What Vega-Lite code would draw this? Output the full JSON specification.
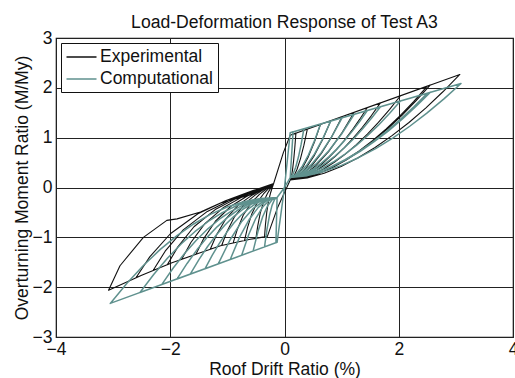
{
  "$schema": "https://vega.github.io/schema/vega-lite/v6.json",
  "width": 457,
  "height": 299,
  "autosize": {"type": "none"},
  "padding": {"left": 56, "top": 38, "right": 2, "bottom": 41},
  "background": "white",
  "title": {
    "text": "Load-Deformation Response of Test A3",
    "font": "Liberation Sans",
    "fontSize": 17.6,
    "fontWeight": "normal",
    "color": "#111111",
    "anchor": "middle",
    "offset": -3
  },
  "datasets": {
    "experimental": [
      {"x": -0.19, "y": 0.08}, {"x": -0.02, "y": 0.7}, {"x": 0.1, "y": 1.05}, {"x": 0.2, "y": 1.091}, {"x": 0.18, "y": 0.794}, {"x": 0.16, "y": 0.545}, {"x": 0.14, "y": 0.349}, {"x": 0.12, "y": 0.211}, {"x": 0.1, "y": 0.15}, {"x": -0.12, "y": -0.4}, {"x": -0.3, "y": -0.98}, {"x": -0.35, "y": -0.99}, {"x": -0.334, "y": -0.752}, {"x": -0.31, "y": -0.49}, {"x": -0.278, "y": -0.263}, {"x": -0.246, "y": -0.116}, {"x": -0.214, "y": 0.0},
      {"x": -0.19, "y": 0.08}, {"x": -0.02, "y": 0.7}, {"x": 0.1, "y": 1.05}, {"x": 0.4, "y": 1.173}, {"x": 0.34, "y": 0.85}, {"x": 0.28, "y": 0.58}, {"x": 0.22, "y": 0.366}, {"x": 0.16, "y": 0.216}, {"x": 0.1, "y": 0.15}, {"x": -0.12, "y": -0.4}, {"x": -0.3, "y": -0.98}, {"x": -0.5, "y": -1.02}, {"x": -0.469, "y": -0.776}, {"x": -0.423, "y": -0.506}, {"x": -0.361, "y": -0.273}, {"x": -0.299, "y": -0.121}, {"x": -0.237, "y": -0.003},
      {"x": -0.19, "y": 0.08}, {"x": -0.02, "y": 0.7}, {"x": 0.1, "y": 1.05}, {"x": 0.63, "y": 1.267}, {"x": 0.524, "y": 0.914}, {"x": 0.418, "y": 0.619}, {"x": 0.312, "y": 0.386}, {"x": 0.206, "y": 0.223}, {"x": 0.1, "y": 0.15}, {"x": -0.12, "y": -0.4}, {"x": -0.3, "y": -0.98}, {"x": -0.6, "y": -1.04}, {"x": -0.7, "y": -1.065}, {"x": -0.649, "y": -0.811}, {"x": -0.573, "y": -0.53}, {"x": -0.471, "y": -0.288}, {"x": -0.369, "y": -0.13}, {"x": -0.267, "y": -0.006},
      {"x": -0.19, "y": 0.08}, {"x": -0.02, "y": 0.7}, {"x": 0.1, "y": 1.05}, {"x": 0.81, "y": 1.341}, {"x": 0.668, "y": 0.965}, {"x": 0.526, "y": 0.65}, {"x": 0.384, "y": 0.401}, {"x": 0.242, "y": 0.227}, {"x": 0.1, "y": 0.15}, {"x": -0.12, "y": -0.4}, {"x": -0.3, "y": -0.98}, {"x": -0.6, "y": -1.04}, {"x": -0.9, "y": -1.115}, {"x": -0.829, "y": -0.85}, {"x": -0.723, "y": -0.557}, {"x": -0.581, "y": -0.304}, {"x": -0.439, "y": -0.139}, {"x": -0.297, "y": -0.01},
      {"x": -0.19, "y": 0.08}, {"x": -0.02, "y": 0.7}, {"x": 0.1, "y": 1.05}, {"x": 1.01, "y": 1.423}, {"x": 0.828, "y": 1.021}, {"x": 0.646, "y": 0.685}, {"x": 0.464, "y": 0.419}, {"x": 0.282, "y": 0.233}, {"x": 0.1, "y": 0.15}, {"x": -0.12, "y": -0.4}, {"x": -0.3, "y": -0.98}, {"x": -0.6, "y": -1.04}, {"x": -1.1, "y": -1.165}, {"x": -1.009, "y": -0.889}, {"x": -0.873, "y": -0.584}, {"x": -0.691, "y": -0.32}, {"x": -0.509, "y": -0.148}, {"x": -0.327, "y": -0.013},
      {"x": -0.19, "y": 0.08}, {"x": -0.02, "y": 0.7}, {"x": 0.1, "y": 1.05}, {"x": 1.22, "y": 1.509}, {"x": 0.996, "y": 1.08}, {"x": 0.772, "y": 0.721}, {"x": 0.548, "y": 0.437}, {"x": 0.324, "y": 0.238}, {"x": 0.1, "y": 0.15}, {"x": -0.12, "y": -0.4}, {"x": -0.3, "y": -0.98}, {"x": -0.6, "y": -1.04}, {"x": -1.12, "y": -1.17}, {"x": -1.3, "y": -1.241}, {"x": -1.189, "y": -0.948}, {"x": -1.023, "y": -0.624}, {"x": -0.801, "y": -0.344}, {"x": -0.579, "y": -0.162}, {"x": -0.357, "y": -0.019},
      {"x": -0.19, "y": 0.08}, {"x": -0.02, "y": 0.7}, {"x": 0.1, "y": 1.05}, {"x": 1.45, "y": 1.604}, {"x": 1.315, "y": 1.366}, {"x": 1.18, "y": 1.145}, {"x": 1.045, "y": 0.943}, {"x": 0.91, "y": 0.761}, {"x": 0.775, "y": 0.598}, {"x": 0.64, "y": 0.457}, {"x": 0.505, "y": 0.338}, {"x": 0.37, "y": 0.245}, {"x": 0.235, "y": 0.179}, {"x": 0.1, "y": 0.15}, {"x": -0.12, "y": -0.4}, {"x": -0.3, "y": -0.98}, {"x": -0.6, "y": -1.04}, {"x": -1.12, "y": -1.17}, {"x": -1.5, "y": -1.32}, {"x": -1.55, "y": -1.34}, {"x": -1.414, "y": -1.025}, {"x": -1.21, "y": -0.677}, {"x": -0.938, "y": -0.376}, {"x": -0.666, "y": -0.18}, {"x": -0.394, "y": -0.027},
      {"x": -0.19, "y": 0.08}, {"x": -0.02, "y": 0.7}, {"x": 0.1, "y": 1.05}, {"x": 1.68, "y": 1.698}, {"x": 1.522, "y": 1.444}, {"x": 1.364, "y": 1.209}, {"x": 1.206, "y": 0.994}, {"x": 1.048, "y": 0.8}, {"x": 0.89, "y": 0.626}, {"x": 0.732, "y": 0.477}, {"x": 0.574, "y": 0.35}, {"x": 0.416, "y": 0.251}, {"x": 0.258, "y": 0.181}, {"x": 0.1, "y": 0.15}, {"x": -0.12, "y": -0.4}, {"x": -0.3, "y": -0.98}, {"x": -0.6, "y": -1.04}, {"x": -1.12, "y": -1.17}, {"x": -1.5, "y": -1.32}, {"x": -1.8, "y": -1.441}, {"x": -1.639, "y": -1.103}, {"x": -1.398, "y": -0.731}, {"x": -1.076, "y": -0.408}, {"x": -0.754, "y": -0.198}, {"x": -0.432, "y": -0.034},
      {"x": -0.19, "y": 0.08}, {"x": -0.02, "y": 0.7}, {"x": 0.1, "y": 1.05}, {"x": 2.03, "y": 1.841}, {"x": 1.837, "y": 1.564}, {"x": 1.644, "y": 1.307}, {"x": 1.451, "y": 1.072}, {"x": 1.258, "y": 0.86}, {"x": 1.065, "y": 0.67}, {"x": 0.872, "y": 0.507}, {"x": 0.679, "y": 0.368}, {"x": 0.486, "y": 0.26}, {"x": 0.293, "y": 0.184}, {"x": 0.1, "y": 0.15}, {"x": -0.12, "y": -0.4}, {"x": -0.3, "y": -0.98}, {"x": -0.6, "y": -1.04}, {"x": -1.12, "y": -1.17}, {"x": -1.5, "y": -1.32}, {"x": -1.97, "y": -1.51}, {"x": -2.05, "y": -1.548}, {"x": -1.864, "y": -1.187}, {"x": -1.585, "y": -0.788}, {"x": -1.213, "y": -0.443}, {"x": -0.841, "y": -0.218}, {"x": -0.469, "y": -0.042},
      {"x": -0.19, "y": 0.08}, {"x": -0.02, "y": 0.7}, {"x": 0.1, "y": 1.05}, {"x": 2.5, "y": 2.034}, {"x": 2.26, "y": 1.725}, {"x": 2.02, "y": 1.439}, {"x": 1.78, "y": 1.177}, {"x": 1.54, "y": 0.941}, {"x": 1.3, "y": 0.73}, {"x": 1.06, "y": 0.548}, {"x": 0.82, "y": 0.393}, {"x": 0.58, "y": 0.272}, {"x": 0.34, "y": 0.188}, {"x": 0.1, "y": 0.15}, {"x": -0.12, "y": -0.4}, {"x": -0.3, "y": -0.98}, {"x": -0.6, "y": -1.04}, {"x": -1.12, "y": -1.17}, {"x": -1.5, "y": -1.32}, {"x": -1.97, "y": -1.51}, {"x": -2.3, "y": -1.666}, {"x": -2.089, "y": -1.278}, {"x": -1.773, "y": -0.851}, {"x": -1.351, "y": -0.48}, {"x": -0.929, "y": -0.24}, {"x": -0.507, "y": -0.051},
      {"x": -0.19, "y": 0.08}, {"x": -0.02, "y": 0.7}, {"x": 0.1, "y": 1.05}, {"x": 2.55, "y": 2.055}, {"x": 2.305, "y": 1.743}, {"x": 2.06, "y": 1.453}, {"x": 1.815, "y": 1.189}, {"x": 1.57, "y": 0.95}, {"x": 1.325, "y": 0.736}, {"x": 1.08, "y": 0.552}, {"x": 0.835, "y": 0.396}, {"x": 0.59, "y": 0.274}, {"x": 0.345, "y": 0.188}, {"x": 0.1, "y": 0.15}, {"x": -0.12, "y": -0.4}, {"x": -0.3, "y": -0.98}, {"x": -0.6, "y": -1.04}, {"x": -1.12, "y": -1.17}, {"x": -1.5, "y": -1.32}, {"x": -1.97, "y": -1.51}, {"x": -2.5, "y": -1.76}, {"x": -2.6, "y": -1.812}, {"x": -2.359, "y": -1.392}, {"x": -1.998, "y": -0.928}, {"x": -1.516, "y": -0.527}, {"x": -1.034, "y": -0.266}, {"x": -0.552, "y": -0.062},
      {"x": -0.19, "y": 0.08}, {"x": -0.02, "y": 0.7}, {"x": 0.1, "y": 1.05}, {"x": 3.07, "y": 2.268}, {"x": 2.773, "y": 1.921}, {"x": 2.476, "y": 1.599}, {"x": 2.179, "y": 1.305}, {"x": 1.882, "y": 1.04}, {"x": 1.585, "y": 0.802}, {"x": 1.288, "y": 0.597}, {"x": 0.991, "y": 0.423}, {"x": 0.694, "y": 0.287}, {"x": 0.397, "y": 0.192}, {"x": 0.1, "y": 0.15}, {"x": -0.12, "y": -0.4}, {"x": -0.3, "y": -0.98}, {"x": -0.6, "y": -1.04}, {"x": -1.12, "y": -1.17}, {"x": -1.5, "y": -1.32}, {"x": -1.97, "y": -1.51}, {"x": -2.5, "y": -1.76}, {"x": -3.08, "y": -2.06}, {"x": -2.88, "y": -1.57}, {"x": -2.47, "y": -1.0}, {"x": -2.06, "y": -0.66}, {"x": -1.88, "y": -0.63}, {"x": -1.47, "y": -0.49}, {"x": -1.12, "y": -0.31}, {"x": -0.6, "y": -0.15}, {"x": -0.19, "y": 0.08}
    ],
    "computational": [
      {"x": 0, "y": 0}, {"x": 0.1, "y": 1.1}, {"x": 0.15, "y": 1.117}, {"x": 0.1, "y": 0.2}, {"x": 0, "y": 0}, {"x": -0.13, "y": -1.1}, {"x": -0.15, "y": -1.108}, {"x": -0.13, "y": -0.2},
      {"x": 0, "y": 0}, {"x": 0.1, "y": 1.1}, {"x": 0.34, "y": 1.179}, {"x": 0.292, "y": 0.87}, {"x": 0.244, "y": 0.611}, {"x": 0.196, "y": 0.407}, {"x": 0.148, "y": 0.264}, {"x": 0.1, "y": 0.2}, {"x": 0, "y": 0}, {"x": -0.13, "y": -1.1}, {"x": -0.35, "y": -1.192}, {"x": -0.306, "y": -0.835}, {"x": -0.262, "y": -0.557}, {"x": -0.218, "y": -0.359}, {"x": -0.174, "y": -0.24}, {"x": -0.13, "y": -0.2},
      {"x": 0, "y": 0}, {"x": 0.1, "y": 1.1}, {"x": 0.63, "y": 1.275}, {"x": 0.524, "y": 0.935}, {"x": 0.418, "y": 0.652}, {"x": 0.312, "y": 0.427}, {"x": 0.206, "y": 0.27}, {"x": 0.1, "y": 0.2}, {"x": 0, "y": 0}, {"x": -0.13, "y": -1.1}, {"x": -0.55, "y": -1.276}, {"x": -0.466, "y": -0.889}, {"x": -0.382, "y": -0.587}, {"x": -0.298, "y": -0.372}, {"x": -0.214, "y": -0.243}, {"x": -0.13, "y": -0.2},
      {"x": 0, "y": 0}, {"x": 0.1, "y": 1.1}, {"x": 0.81, "y": 1.334}, {"x": 0.668, "y": 0.976}, {"x": 0.526, "y": 0.676}, {"x": 0.384, "y": 0.439}, {"x": 0.242, "y": 0.274}, {"x": 0.1, "y": 0.2}, {"x": 0, "y": 0}, {"x": -0.13, "y": -1.1}, {"x": -0.75, "y": -1.36}, {"x": -0.626, "y": -0.942}, {"x": -0.502, "y": -0.618}, {"x": -0.378, "y": -0.386}, {"x": -0.254, "y": -0.246}, {"x": -0.13, "y": -0.2},
      {"x": 0, "y": 0}, {"x": 0.1, "y": 1.1}, {"x": 1.01, "y": 1.4}, {"x": 0.828, "y": 1.021}, {"x": 0.646, "y": 0.704}, {"x": 0.464, "y": 0.453}, {"x": 0.282, "y": 0.278}, {"x": 0.1, "y": 0.2}, {"x": 0, "y": 0}, {"x": -0.13, "y": -1.1}, {"x": -0.95, "y": -1.444}, {"x": -0.786, "y": -0.996}, {"x": -0.622, "y": -0.648}, {"x": -0.458, "y": -0.399}, {"x": -0.294, "y": -0.25}, {"x": -0.13, "y": -0.2},
      {"x": 0, "y": 0}, {"x": 0.1, "y": 1.1}, {"x": 1.22, "y": 1.47}, {"x": 0.996, "y": 1.069}, {"x": 0.772, "y": 0.733}, {"x": 0.548, "y": 0.468}, {"x": 0.324, "y": 0.283}, {"x": 0.1, "y": 0.2}, {"x": 0, "y": 0}, {"x": -0.13, "y": -1.1}, {"x": -1.16, "y": -1.533}, {"x": -0.954, "y": -1.053}, {"x": -0.748, "y": -0.68}, {"x": -0.542, "y": -0.413}, {"x": -0.336, "y": -0.253}, {"x": -0.13, "y": -0.2},
      {"x": 0, "y": 0}, {"x": 0.1, "y": 1.1}, {"x": 1.45, "y": 1.546}, {"x": 1.315, "y": 1.325}, {"x": 1.18, "y": 1.121}, {"x": 1.045, "y": 0.934}, {"x": 0.91, "y": 0.765}, {"x": 0.775, "y": 0.614}, {"x": 0.64, "y": 0.484}, {"x": 0.505, "y": 0.374}, {"x": 0.37, "y": 0.288}, {"x": 0.235, "y": 0.227}, {"x": 0.1, "y": 0.2}, {"x": 0, "y": 0}, {"x": -0.13, "y": -1.1}, {"x": -1.39, "y": -1.629}, {"x": -1.264, "y": -1.357}, {"x": -1.138, "y": -1.115}, {"x": -1.012, "y": -0.9}, {"x": -0.886, "y": -0.714}, {"x": -0.76, "y": -0.557}, {"x": -0.634, "y": -0.429}, {"x": -0.508, "y": -0.329}, {"x": -0.382, "y": -0.257}, {"x": -0.256, "y": -0.214}, {"x": -0.13, "y": -0.2},
      {"x": 0, "y": 0}, {"x": 0.1, "y": 1.1}, {"x": 1.68, "y": 1.621}, {"x": 1.522, "y": 1.388}, {"x": 1.364, "y": 1.172}, {"x": 1.206, "y": 0.975}, {"x": 1.048, "y": 0.797}, {"x": 0.89, "y": 0.637}, {"x": 0.732, "y": 0.5}, {"x": 0.574, "y": 0.383}, {"x": 0.416, "y": 0.292}, {"x": 0.258, "y": 0.228}, {"x": 0.1, "y": 0.2}, {"x": 0, "y": 0}, {"x": -0.13, "y": -1.1}, {"x": -1.65, "y": -1.738}, {"x": -1.498, "y": -1.446}, {"x": -1.346, "y": -1.184}, {"x": -1.194, "y": -0.954}, {"x": -1.042, "y": -0.754}, {"x": -0.89, "y": -0.585}, {"x": -0.738, "y": -0.446}, {"x": -0.586, "y": -0.338}, {"x": -0.434, "y": -0.262}, {"x": -0.282, "y": -0.215}, {"x": -0.13, "y": -0.2},
      {"x": 0, "y": 0}, {"x": 0.1, "y": 1.1}, {"x": 2.03, "y": 1.737}, {"x": 1.837, "y": 1.485}, {"x": 1.644, "y": 1.251}, {"x": 1.451, "y": 1.038}, {"x": 1.258, "y": 0.846}, {"x": 1.065, "y": 0.673}, {"x": 0.872, "y": 0.524}, {"x": 0.679, "y": 0.398}, {"x": 0.486, "y": 0.3}, {"x": 0.293, "y": 0.231}, {"x": 0.1, "y": 0.2}, {"x": 0, "y": 0}, {"x": -0.13, "y": -1.1}, {"x": -1.88, "y": -1.835}, {"x": -1.705, "y": -1.524}, {"x": -1.53, "y": -1.246}, {"x": -1.355, "y": -1.001}, {"x": -1.18, "y": -0.789}, {"x": -1.005, "y": -0.609}, {"x": -0.83, "y": -0.462}, {"x": -0.655, "y": -0.347}, {"x": -0.48, "y": -0.265}, {"x": -0.305, "y": -0.216}, {"x": -0.13, "y": -0.2},
      {"x": 0, "y": 0}, {"x": 0.1, "y": 1.1}, {"x": 2.5, "y": 1.892}, {"x": 2.26, "y": 1.615}, {"x": 2.02, "y": 1.357}, {"x": 1.78, "y": 1.123}, {"x": 1.54, "y": 0.911}, {"x": 1.3, "y": 0.721}, {"x": 1.06, "y": 0.557}, {"x": 0.82, "y": 0.418}, {"x": 0.58, "y": 0.31}, {"x": 0.34, "y": 0.234}, {"x": 0.1, "y": 0.2}, {"x": 0, "y": 0}, {"x": -0.13, "y": -1.1}, {"x": -2.15, "y": -1.948}, {"x": -1.948, "y": -1.616}, {"x": -1.746, "y": -1.319}, {"x": -1.544, "y": -1.057}, {"x": -1.342, "y": -0.829}, {"x": -1.14, "y": -0.637}, {"x": -0.938, "y": -0.48}, {"x": -0.736, "y": -0.357}, {"x": -0.534, "y": -0.27}, {"x": -0.332, "y": -0.217}, {"x": -0.13, "y": -0.2},
      {"x": 0, "y": 0}, {"x": 0.1, "y": 1.1}, {"x": 2.55, "y": 1.909}, {"x": 2.305, "y": 1.629}, {"x": 2.06, "y": 1.369}, {"x": 1.815, "y": 1.132}, {"x": 1.57, "y": 0.918}, {"x": 1.325, "y": 0.726}, {"x": 1.08, "y": 0.561}, {"x": 0.835, "y": 0.421}, {"x": 0.59, "y": 0.311}, {"x": 0.345, "y": 0.234}, {"x": 0.1, "y": 0.2}, {"x": 0, "y": 0}, {"x": -0.13, "y": -1.1}, {"x": -2.53, "y": -2.108}, {"x": -2.29, "y": -1.745}, {"x": -2.05, "y": -1.421}, {"x": -1.81, "y": -1.135}, {"x": -1.57, "y": -0.887}, {"x": -1.33, "y": -0.677}, {"x": -1.09, "y": -0.505}, {"x": -0.85, "y": -0.372}, {"x": -0.61, "y": -0.276}, {"x": -0.37, "y": -0.219}, {"x": -0.13, "y": -0.2},
      {"x": 0, "y": 0}, {"x": 0.1, "y": 1.1}, {"x": 3.09, "y": 2.087}, {"x": 2.791, "y": 1.778}, {"x": 2.492, "y": 1.491}, {"x": 2.193, "y": 1.229}, {"x": 1.894, "y": 0.993}, {"x": 1.595, "y": 0.781}, {"x": 1.296, "y": 0.598}, {"x": 0.997, "y": 0.444}, {"x": 0.698, "y": 0.323}, {"x": 0.399, "y": 0.238}, {"x": 0.1, "y": 0.2}, {"x": 0, "y": 0}, {"x": -0.13, "y": -1.1}, {"x": -3.05, "y": -2.326}, {"x": -2.758, "y": -1.922}, {"x": -2.466, "y": -1.561}, {"x": -2.174, "y": -1.242}, {"x": -1.882, "y": -0.965}, {"x": -1.59, "y": -0.732}, {"x": -1.298, "y": -0.54}, {"x": -1.006, "y": -0.391}, {"x": -0.714, "y": -0.285}, {"x": -0.422, "y": -0.221}, {"x": -0.13, "y": -0.2}, {"x": 0, "y": 0}
    ]
  },
  "encoding": {
    "x": {
      "field": "x",
      "type": "quantitative",
      "scale": {"domain": [-4, 4], "nice": false, "zero": false},
      "axis": {"title": "Roof Drift Ratio (%)", "values": [-4, -2, 0, 2, 4], "labelPadding": 3, "titlePadding": 3}
    },
    "y": {
      "field": "y",
      "type": "quantitative",
      "scale": {"domain": [-3, 3], "nice": false, "zero": false},
      "axis": {"title": "Overturning Moment Ratio (M/My)", "values": [-3, -2, -1, 0, 1, 2, 3], "labelPadding": 4, "titlePadding": 1}
    },
    "order": {"value": null}
  },
  "layer": [
    {
      "data": {"name": "experimental"},
      "mark": {"type": "line", "strokeWidth": 1.1, "clip": true, "strokeJoin": "round"},
      "encoding": {
        "color": {
          "datum": "Experimental",
          "type": "nominal",
          "scale": {"domain": ["Experimental", "Computational"], "range": ["#111111", "#5f918e"]},
          "legend": {
            "orient": "none",
            "legendX": 5,
            "legendY": 5,
            "title": null,
            "strokeColor": "#111111",
            "fillColor": "white",
            "padding": 4.5,
            "cornerRadius": 0,
            "symbolType": "M-1,0H2.53",
            "symbolSize": 289,
            "symbolStrokeWidth": 1.5,
            "labelFont": "Liberation Sans",
            "labelFontSize": 17.5,
            "labelColor": "#111111",
            "labelOffset": 15.5,
            "rowPadding": 4
          }
        }
      }
    },
    {
      "data": {"name": "computational"},
      "mark": {"type": "line", "strokeWidth": 1.5, "clip": true, "strokeJoin": "round"},
      "encoding": {
        "color": {"datum": "Computational", "type": "nominal"}
      }
    }
  ],
  "config": {
    "view": {"stroke": "#111111", "strokeWidth": 1.2},
    "axis": {
      "grid": true,
      "gridColor": "#222222",
      "gridOpacity": 1,
      "gridWidth": 1,
      "ticks": false,
      "domain": false,
      "labelFont": "Liberation Sans",
      "labelFontSize": 17.5,
      "labelColor": "#111111",
      "labelFlush": false,
      "labelOverlap": false,
      "labelBound": false,
      "titleFont": "Liberation Sans",
      "titleFontSize": 17.5,
      "titleFontWeight": "normal",
      "titleColor": "#111111"
    }
  }
}
